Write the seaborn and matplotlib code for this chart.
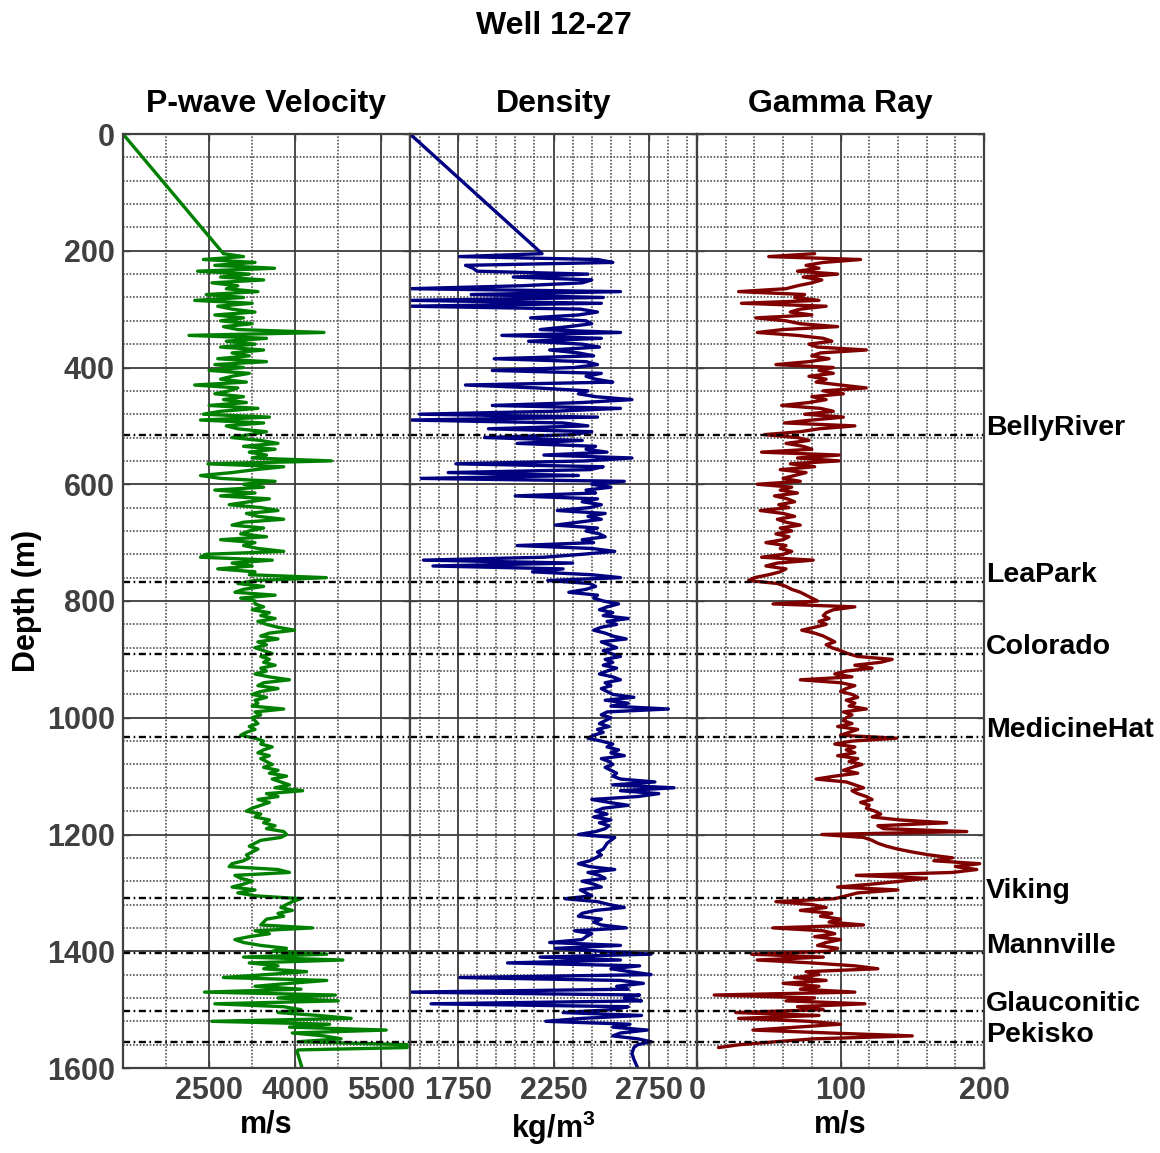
import numpy as np
import pandas as pd
import matplotlib
matplotlib.use("Agg")
import matplotlib.pyplot as plt
import seaborn as sns
from matplotlib.ticker import FixedLocator

sns.set_theme(style="white")
plt.rcParams['font.family'] = ['Liberation Sans', 'DejaVu Sans']
plt.rcParams['mathtext.fontset'] = 'custom'
plt.rcParams['mathtext.rm'] = 'Liberation Sans:bold'
plt.rcParams['mathtext.bf'] = 'Liberation Sans:bold'
plt.rcParams['mathtext.default'] = 'bf'

# ---------------- data ----------------
title = "Well 12-27"
panel_titles = ["P-wave Velocity", "Density", "Gamma Ray"]
unit_labels = ["m/s", "kg/m$^3$", "m/s"]

vel_ticks = [2500, 4000, 5500]
dens_ticks = [1750, 2250, 2750]
gam_ticks = [0, 100, 200]
depth_ticks = [0, 200, 400, 600, 800, 1000, 1200, 1400, 1600]

formations = ["BellyRiver", "LeaPark", "Colorado", "MedicineHat",
              "Viking", "Mannville", "Glauconitic", "Pekisko"]
formation_tops = [515, 768, 891, 1033, 1308, 1403, 1502, 1555]

# log samples every 5 m from 205 m to 1565 m
log_depth = np.arange(205, 1566, 5)

vel_top_depth = [0]
vel_top = [1000]
vel_log = [
    2750, 3100, 2400, 3300, 2600, 3640, 2300, 3200, 2700, 3450,
    2550, 3000, 2800, 3350, 2450, 3100, 2250, 3250, 2650, 2900,
    3300, 2600, 3100, 2700, 3250, 2750, 3000, 4500, 2150, 3500,
    2800, 3300, 2700, 3450, 2900, 3200, 2650, 3500, 2600, 3100,
    2500, 3200, 2900, 2700, 3150, 2250, 3000, 2850, 2600, 3100,
    2750, 3150, 2500, 3350, 2700, 2400, 3550, 2350, 3450, 2800,
    3000, 3500, 3200, 2900, 3400, 3700, 3100, 3650, 3200, 3500,
    3250, 4630, 2480, 3800, 3300, 2900, 2350, 2700, 3650, 3100,
    3450, 2600, 3300, 2700, 3550, 3200, 2850, 3400, 3700, 3150,
    3350, 3800, 3100, 2900, 3450, 3200, 3050, 3500, 2700, 3300,
    3100, 3350, 3800, 2450, 2350, 3600, 2900, 3250, 2650, 3300,
    3200, 4540, 3300, 3000, 3450, 3100, 2950, 3650, 3050, 3300,
    3300, 3450, 3250, 3550, 3400, 3650, 3350, 3500, 3700, 3990,
    3550, 3400, 3700, 3350, 3500, 3300, 3450, 3600, 3400, 3550,
    3450, 3650, 3400, 3500, 3300, 3550, 3900, 3450, 3350, 3700,
    3400, 3250, 3500, 3300, 3350, 3250, 3800, 3300, 3400, 3250,
    3300, 3350, 3200, 3300, 3150, 3050, 3300, 3450, 3400, 3600,
    3450, 3350, 3550, 3400, 3500, 3600, 3450, 3700, 3550, 3850,
    3600, 3750, 3900, 3650, 4130, 3500, 3700, 3350, 3550, 3400,
    3250, 3150, 3400, 3300, 3550, 3450, 3650, 3500, 3800, 3850,
    3750, 3400, 3300, 3200, 3350, 3250, 3150, 3200, 3100, 2900,
    2850, 3700, 3900, 2950, 3050, 3250, 3100, 2900, 3300, 3000,
    3300, 4100, 3950, 3850, 3750, 3950, 3700, 3800, 3500, 3450,
    3400, 4300, 3300, 3550, 3200, 2950, 3100, 3400, 3850, 3600,
    4550, 3100, 4830, 3200, 3700, 3450, 4200, 3500, 2750, 4550,
    3900, 3300, 4100, 2420, 4700, 3700, 4750, 2600, 3800, 4100,
    3700, 4400, 4975, 2550, 4600, 3900, 5585, 3950, 4500, 4800,
    4050, 5950, 5950,
]
vel_tail_depth = [1569, 1571, 1600]
vel_tail = [4050, 4030, 4120]

dens_top_depth = [0]
dens_top = [1500]
dens_log = [
    2190, 1760, 2480, 2560, 1790, 1830, 1850, 2430, 2040, 2450,
    2400, 2080, 1500, 2600, 1820, 2510, 1500, 2500, 1500, 2390,
    2480, 2380, 2130, 2420, 2450, 2330, 2180, 2600, 1980, 2500,
    2120, 2400, 2490, 2230, 2380, 2460, 1940, 2420, 2480, 2360,
    1930, 2500, 2420, 2470, 2560, 1790, 2160, 2430, 2380, 2470,
    2660, 2400, 1930, 2600, 2250, 1550, 2480, 1500, 2300, 2430,
    1910, 2450, 2350, 1890, 2400, 2060, 2470, 2420, 2530, 2200,
    2660, 2420, 1740, 2510, 2440, 1700, 2380, 1560, 2620, 2450,
    2550, 2420, 2470, 2050, 2480, 2400, 2500, 2440, 2270, 2520,
    2430, 2500, 2380, 2260, 2480, 2420, 2490, 2520, 2400, 2460,
    2060, 2450, 2570, 2400, 2200, 1570, 2350, 1620, 2300, 2140,
    2450, 2600, 2220, 2440, 2470, 2420, 2330, 2480, 2460, 2510,
    2590, 2530, 2490, 2560, 2510, 2640, 2530, 2580, 2500, 2460,
    2520, 2560, 2630, 2500, 2540, 2580, 2510, 2550, 2600, 2520,
    2560, 2510, 2580, 2530, 2490, 2560, 2600, 2520, 2550, 2500,
    2530, 2560, 2670, 2520, 2640, 2550, 2850, 2530, 2500, 2550,
    2520, 2490, 2540, 2480, 2510, 2460, 2430, 2500, 2560, 2530,
    2590, 2550, 2620, 2500, 2540, 2560, 2520, 2550, 2580, 2560,
    2600, 2780, 2560, 2880, 2600, 2800, 2690, 2450, 2540, 2640,
    2510, 2470, 2530, 2460, 2550, 2490, 2540, 2520, 2470, 2380,
    2570, 2550, 2530, 2520, 2510, 2480, 2500, 2470, 2440, 2380,
    2440, 2570, 2430, 2490, 2520, 2400, 2460, 2500, 2390, 2420,
    2450, 2310, 2480, 2540, 2620, 2470, 2400, 2380, 2500, 2460,
    2500, 2630, 2360, 2450, 2420, 2400, 2230, 2600, 2260, 2500,
    2760, 2180, 2600, 2010, 2700, 2550, 2650, 2760, 1760, 2600,
    2720, 2580, 2640, 1500, 2700, 2620, 2710, 1610, 2640, 2560,
    2300, 2710, 2400, 2210, 2650, 2560, 2740, 2600, 2560, 2690,
    2760, 2690, 2670,
]
dens_tail_depth = [1575, 1585, 1600]
dens_tail = [2660, 2670, 2690]

gam_log = [
    82, 50, 114, 88, 76, 85, 70, 98, 74, 87,
    80, 70, 62, 29, 75, 68, 85, 31, 90, 72,
    65, 80, 41, 62, 72, 98, 60, 42, 70, 88,
    94, 78, 84, 118, 86, 80, 92, 78, 55, 95,
    85, 95, 78, 90, 83, 100, 118, 88, 102, 80,
    90, 78, 59, 86, 95, 75, 102, 80, 61, 110,
    85, 72, 47, 70, 78, 62, 74, 80, 45, 99,
    70, 99, 65, 82, 58, 76, 68, 60, 72, 42,
    66, 58, 70, 54, 63, 68, 57, 64, 44, 60,
    68, 56, 62, 72, 58, 66, 55, 64, 60, 48,
    62, 58, 66, 60, 45, 81, 56, 48, 62, 58,
    50, 40, 36, 56, 62, 66, 72, 76, 80, 84,
    53, 110, 95, 90, 88, 92, 85, 90, 82, 73,
    82, 88, 92, 96, 90, 94, 100, 105, 112, 136,
    128, 110, 122, 104, 96, 108, 72, 100, 110, 104,
    100, 108, 112, 104, 110, 106, 118, 102, 108, 104,
    102, 108, 98, 112, 106, 100, 139, 108, 96, 110,
    104, 110, 98, 112, 106, 115, 108, 102, 112, 96,
    83, 104, 110, 116, 108, 112, 118, 122, 114, 120,
    118, 124, 128, 122, 141, 174, 126, 130, 188, 87,
    116, 122, 126, 132, 140, 150, 162, 178, 165, 197,
    180, 195, 178, 111, 160, 142, 122, 98, 140, 112,
    104, 96, 55, 80, 90, 72, 94, 86, 100, 92,
    116, 53, 88, 96, 82, 100, 90, 84, 98, 92,
    38, 88, 42, 80, 110, 126, 76, 85, 68, 90,
    60, 85, 72, 110, 12, 82, 62, 117, 70, 88,
    27, 85, 29, 78, 100, 70, 39, 92, 150, 82,
    55, 30, 15,
]

# ---------------- build tables ----------------
vel_df = pd.DataFrame({
    "depth": np.concatenate([vel_top_depth, log_depth, vel_tail_depth]),
    "value": np.concatenate([vel_top, vel_log, vel_tail]),
})
dens_df = pd.DataFrame({
    "depth": np.concatenate([dens_top_depth, log_depth, dens_tail_depth]),
    "value": np.concatenate([dens_top, dens_log, dens_tail]),
})
gam_df = pd.DataFrame({"depth": log_depth, "value": gam_log})

# ---------------- figure ----------------
W, H = 1160, 1153
fig = plt.figure(figsize=(W / 100, H / 100), dpi=100)
left_px = [123, 410, 697]
pw = 287
top_px, bot_px = 134, 1068
axes = [fig.add_axes([lp / W, 1 - bot_px / H, pw / W, (bot_px - top_px) / H])
        for lp in left_px]

specs = [
    (vel_df, "#008000", (1000, 6000), vel_ticks, np.arange(1750, 6000, 750)),
    (dens_df, "#000080", (1500, 3000), dens_ticks, np.arange(1550, 3000, 100)),
    (gam_df, "#800000", (0, 200), gam_ticks, np.arange(20, 200, 20)),
]

FS = 22
tick_col = "#404040"
for i, (ax, (df, col, xlim, xt, xminor)) in enumerate(zip(axes, specs)):
    ax.set_facecolor("white")
    ax.set_axisbelow(True)
    ax.set_xlim(*xlim)
    ax.set_ylim(1600, 0)
    ax.xaxis.set_major_locator(FixedLocator(xt))
    ax.xaxis.set_minor_locator(FixedLocator(list(xminor)))
    ax.yaxis.set_major_locator(FixedLocator(depth_ticks))
    ax.yaxis.set_minor_locator(FixedLocator(list(np.arange(40, 1600, 40))))
    ax.grid(which="minor", color="#555555", lw=1.2, ls=(0, (1, 1)))
    ax.grid(which="major", color="#3c3c3c", lw=1.3, ls="-")

    sns.lineplot(data=df, x="value", y="depth", sort=False, estimator=None,
                 color=col, linewidth=2.4, ax=ax, zorder=3)

    for d in formation_tops:
        ax.axhline(d, color="black", lw=1.7, ls=(0, (3, 1.5, 0.7, 1.5)), zorder=4)

    ax.set_title(panel_titles[i], fontsize=23, fontweight="bold", pad=16, color="black")
    ax.set_xlabel(unit_labels[i], fontsize=FS, fontweight="bold", color="black", labelpad=2)
    ax.set_ylabel("")
    ax.tick_params(axis="both", which="major", direction="in", length=5, width=1,
                   color=tick_col, labelsize=FS, labelcolor=tick_col, pad=6,
                   top=True, right=True, bottom=True, left=True)
    ax.tick_params(axis="both", which="minor", length=0)
    for lab in ax.get_xticklabels():
        lab.set_fontweight("bold")
    if i == 0:
        for lab in ax.get_yticklabels():
            lab.set_fontweight("bold")
        ax.set_ylabel("Depth (m)", fontsize=FS, fontweight="bold", color="black", labelpad=3)
    else:
        ax.tick_params(axis="y", labelleft=False)
    for sp in ax.spines.values():
        sp.set_visible(True)
        sp.set_color(tick_col)
        sp.set_linewidth(1.6)
        sp.set_zorder(5)

ax3 = axes[2]
for name, d in zip(formations, formation_tops):
    ax3.text(1.006, d, name, transform=ax3.get_yaxis_transform(), ha="left",
             va="baseline", fontsize=20.5, fontweight="bold", color="black", clip_on=False)

fig.text(553.5 / W, 1 - 26 / H, title, ha="center", va="center",
         fontsize=23, fontweight="bold", color="black")

fig.savefig("out.png", dpi=100, facecolor="white")
